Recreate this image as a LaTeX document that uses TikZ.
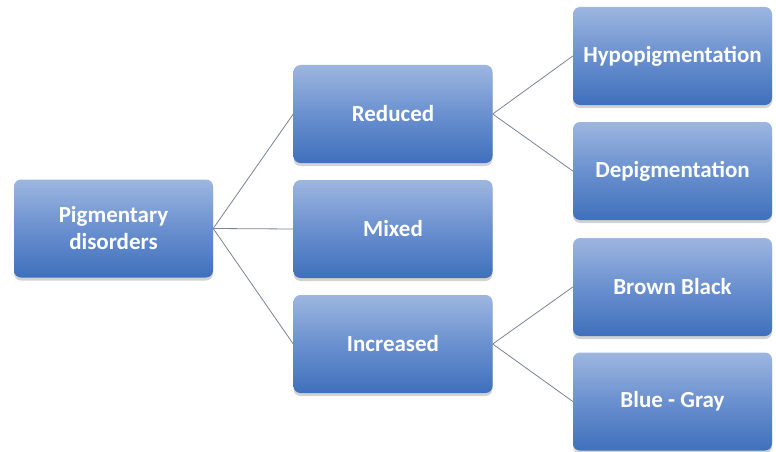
\documentclass[tikz,border=0pt]{standalone}
\usepackage{fontspec}
\setmainfont{Carlito}
\usetikzlibrary{shadows}
\definecolor{boxtop}{HTML}{9DB6E0}
\definecolor{boxmid}{HTML}{6A90CF}
\definecolor{boxbot}{HTML}{3F70BC}
\definecolor{linegray}{HTML}{7A8494}
\tikzset{
  box/.style={rounded corners=7pt, minimum width=199pt, minimum height=98pt,
    top color=boxtop, bottom color=boxbot, middle color=boxmid,
    draw=none, text=white, font=\bfseries\fontsize{23}{27}\selectfont, align=center,
    drop shadow={opacity=0.35, shadow xshift=0pt, shadow yshift=-3pt}},
  conn/.style={draw=linegray, line width=0.8pt}
}
\begin{document}
\begin{tikzpicture}[x=1pt,y=-1pt]
\useasboundingbox[fill=white] (0,0) rectangle (776,452);
\node[box] (root) at (113.5,228.5) {Pigmentary\\disorders};
\node[box] (red) at (393,114) {Reduced};
\node[box] (mix) at (393,229) {Mixed};
\node[box] (inc) at (393,344) {Increased};
\node[box] (hypo) at (672.5,56) {Hypopigmentation};
\node[box] (depi) at (672.5,171) {Depigmentation};
\node[box] (brown) at (672.5,287) {Brown Black};
\node[box] (blue) at (672.5,401.5) {Blue - Gray};
\draw[conn] (root.east) -- (red.west);
\draw[conn] (root.east) -- (mix.west);
\draw[conn] (root.east) -- (inc.west);
\draw[conn] (red.east) -- (hypo.west);
\draw[conn] (red.east) -- (depi.west);
\draw[conn] (inc.east) -- (brown.west);
\draw[conn] (inc.east) -- (blue.west);
\end{tikzpicture}
\end{document}
